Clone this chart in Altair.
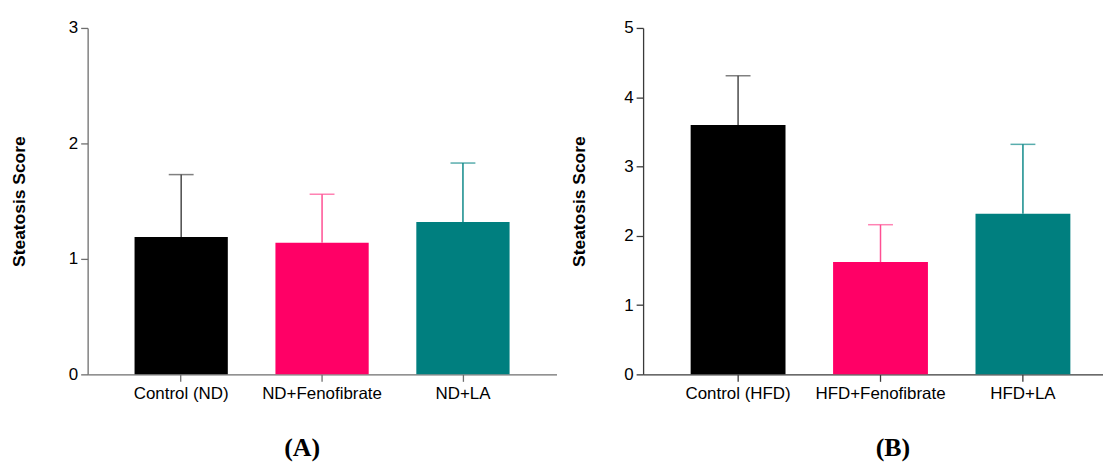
import altair as alt
import pandas as pd

groups_a = ["Control (ND)", "ND+Fenofibrate", "ND+LA"]
mean_a = [1.19, 1.14, 1.32]
sd_a = [0.54, 0.42, 0.51]

groups_b = ["Control (HFD)", "HFD+Fenofibrate", "HFD+LA"]
mean_b = [3.60, 1.62, 2.32]
sd_b = [0.71, 0.54, 1.00]

bar_colors = ["#000000", "#ff0066", "#007f7f"]
err_colors = ["#4a4a4a", "#ff4f93", "#118a8a"]


def panel(groups, means, sds, ymax, label, dx, axis_color, title_pad,
          width, p_inner, p_outer, align):
    df = pd.DataFrame({"group": groups, "mean": means, "sd": sds,
                       "bc": bar_colors, "ec": err_colors})
    df["top"] = df["mean"] + df["sd"]
    x = alt.X("group:N", sort=groups,
              scale=alt.Scale(paddingInner=p_inner, paddingOuter=p_outer,
                              align=align),
              axis=alt.Axis(title=None, labelAngle=0, labelFontSize=17,
                            labelColor="#000000", labelFont="Liberation Sans",
                            tickSize=7, labelPadding=4,
                            domainColor=axis_color, tickColor=axis_color,
                            domainWidth=1.3, tickWidth=1.3))
    yaxis = alt.Axis(title="Steatosis Score", values=list(range(ymax + 1)),
                     grid=False, labelFontSize=17, labelColor="#000000",
                     labelFont="Liberation Sans", titleFont="Liberation Sans",
                     titleFontSize=17.5, titleFontWeight="bold",
                     titleColor="#000000", titlePadding=title_pad,
                     tickSize=7, labelPadding=3,
                     domainColor=axis_color, tickColor=axis_color,
                     domainWidth=1.3, tickWidth=1.3)
    yscale = alt.Scale(domain=[0, ymax], nice=False)
    base = alt.Chart(df)
    bars = base.mark_bar().encode(
        x=x,
        y=alt.Y("mean:Q", scale=yscale, axis=yaxis),
        color=alt.Color("bc:N", scale=None),
    )
    rule = base.mark_rule(strokeWidth=1.5).encode(
        x=x,
        y=alt.Y("mean:Q", scale=yscale, axis=yaxis),
        y2="top:Q",
        color=alt.Color("ec:N", scale=None),
    )
    cap = base.mark_tick(size=25, thickness=1.5).encode(
        x=x,
        y=alt.Y("top:Q", scale=yscale, axis=yaxis),
        color=alt.Color("ec:N", scale=None),
    )
    return alt.layer(bars, rule, cap).properties(
        width=width, height=348,
        title=alt.TitleParams(label, orient="bottom", dx=dx, offset=34,
                              font="Liberation Serif", fontSize=26,
                              fontWeight="bold", color="#000000"),
    )


left = panel(groups_a, mean_a, sd_a, 3, "(A)", -20, "#6e6e6e", 40,
             471, 0.338, 0.333, 0.5)
right = panel(groups_b, mean_b, sd_b, 5, "(B)", 20, "#3a3a3a", 35,
              462, 0.334, 0.2815, 0.593)

chart = alt.hconcat(left, right, spacing=14).properties(
    padding={"left": 2, "top": 10, "right": 0, "bottom": 0}
).configure(background="#ffffff").configure_view(stroke=None, strokeWidth=0)

chart.save("out.html", embed_options={"renderer": "svg", "actions": False})
